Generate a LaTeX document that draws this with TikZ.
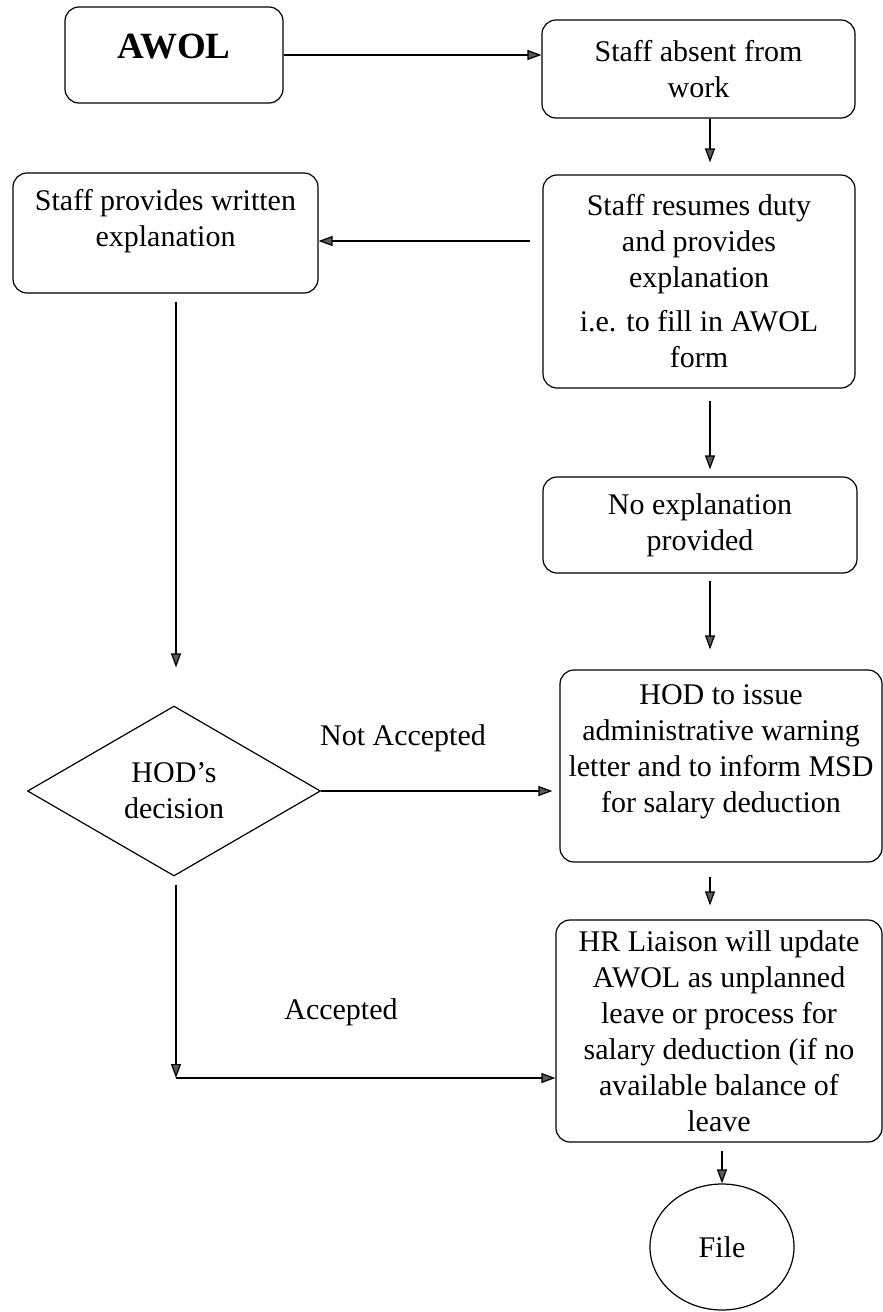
\documentclass[tikz,border=0pt]{standalone}
\usepackage{fontspec}
\setmainfont{Liberation Serif}
\usetikzlibrary{shapes.geometric, arrows.meta, positioning, calc}
\newcommand{\flowfont}{\fontsize{15}{18}\selectfont}

\begin{document}
\begin{tikzpicture}[x=0.5pt, y=-0.5pt,
                        box/.style={draw, line width=0.6pt, rounded corners=7pt, align=center, inner sep=0pt, font=\flowfont},
                        txt/.style={align=center, inner sep=0pt, font=\flowfont},
                        arr/.style={-{Triangle[length=7pt, width=5pt, fill=gray!70!black]}, line width=0.6pt}]
        \useasboundingbox (0,0) rectangle (883,1312);
        \node[box, minimum width=109pt, minimum height=48pt, label={[font=\bfseries\fontsize{18.5}{22}\selectfont, yshift=4pt]center:AWOL}] (awol) at (174,55) {};
        \node[box, minimum width=156.5pt, minimum height=49pt] (absent) at (698.5,69) {Staff absent from\\work};
        \node[box, minimum width=156pt, minimum height=106.5pt] (resumes) at (699,281.5) {Staff resumes duty\\and provides\\explanation\\[4pt]i.e. to fill in AWOL\\form};
        \node[box, minimum width=152.5pt, minimum height=60pt, label={[txt, yshift=6pt]center:Staff provides written\\explanation}] (written) at (165.5,233) {};
        \node[box, minimum width=157pt, minimum height=48pt] (noexp) at (700,525) {No explanation\\provided};
        \node[draw, diamond, line width=0.6pt, minimum width=146.5pt, minimum height=85pt, inner sep=1pt, align=center, font=\flowfont] (dec) at (174,791) {HOD’s\\decision};
        \node[box, minimum width=161pt, minimum height=96pt, label={[txt, yshift=7pt]center:HOD to issue\\administrative warning\\letter and to inform MSD\\for salary deduction}] (hod) at (721,766) {};
        \node[box, minimum width=163pt, minimum height=111pt] (hr) at (719,1031) {HR Liaison will update\\AWOL as unplanned\\leave or process for\\salary deduction (if no\\available balance of\\leave};
        \node[draw, ellipse, line width=0.6pt, minimum width=72pt, minimum height=63pt, font=\flowfont] (file) at (722,1247) {File};
        \node[txt] (notacc) at (403,738) {Not Accepted};
        \node[txt] (acc) at (341,1012) {Accepted};
        \coordinate (col) at (710,0);
        \coordinate (bend) at (176,1078);
        \draw[arr] (awol.east) -- (awol.east -| absent.west);
        \draw[arr, shorten >=6pt] (absent.south -| col) -- (resumes.north -| col);
        \draw[arr, shorten <=6pt] ([yshift=-4pt]resumes.west |- written.east) -- ([yshift=-4pt]written.east);
        \draw[arr, shorten <=6pt, shorten >=3.5pt] (resumes.south -| col) -- (noexp.north -| col);
        \draw[arr, shorten <=3.5pt, shorten >=10pt] (noexp.south -| col) -- (hod.north -| col);
        \draw[arr, shorten <=7pt, shorten >=7pt] (hod.south -| col) -- (hr.north -| col);
        \draw[arr, shorten <=4pt, shorten >=19pt] (bend |- written.south) -- (bend |- dec.north);
        \draw[arr, shorten >=3.5pt] (dec.east) -- (dec.east -| hod.west);
        \draw[arr, shorten <=4pt] (bend |- dec.south) -- (bend);
        \draw[arr] (bend) -- (bend -| hr.west);
        \draw[arr, shorten <=4pt] (file.north |- hr.south) -- (file.north);
    \end{tikzpicture}
\end{document}
